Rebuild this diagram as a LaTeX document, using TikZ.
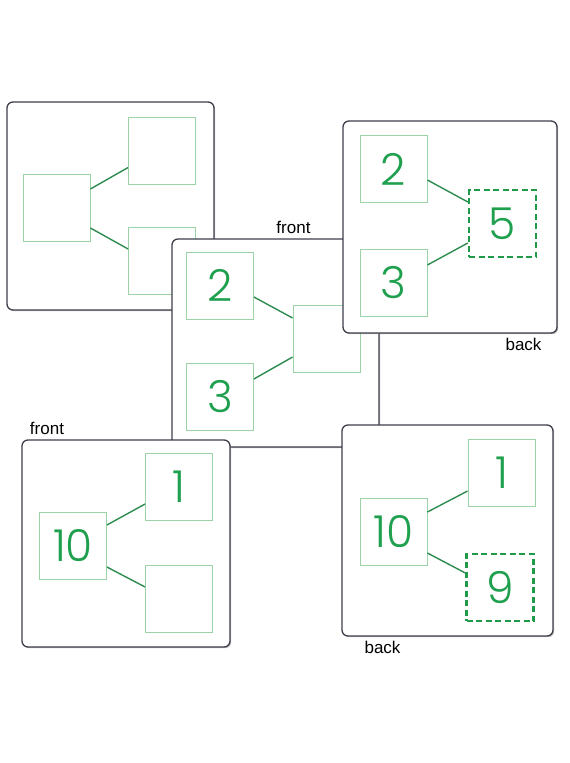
\documentclass[tikz,border=0pt]{standalone}
\usepackage{fontspec}
\setmainfont{Liberation Sans}
\newfontfamily\numfont{Poppins}[UprightFont={* Light}]
\usetikzlibrary{shadows}
\definecolor{cardline}{HTML}{3E3E4C}
\definecolor{boxline}{HTML}{9CD3A6}
\definecolor{linkgreen}{HTML}{2E8C50}
\definecolor{numgreen}{HTML}{1FA04E}
\definecolor{dashgreen}{HTML}{1E9A48}
\tikzset{
  card/.style={draw=cardline, line width=1.3pt, fill=white, rounded corners=6pt,
    drop shadow={shadow xshift=1.2pt, shadow yshift=-1.2pt, opacity=0.5, fill=gray}},
  numbox/.style={draw=boxline, line width=0.8pt, fill=white, minimum width=67pt, minimum height=67pt,
    inner sep=0pt, text=numgreen, font=\numfont\fontsize{44}{44}\selectfont},
  dashbox/.style={numbox, draw=dashgreen, line width=2.3pt, dash pattern=on 6pt off 3.5pt},
  link/.style={draw=linkgreen, line width=1.4pt},
  lbl/.style={anchor=base, inner sep=0pt, font=\fontsize{17}{18}\selectfont, text=black}
}
\begin{document}
\begin{tikzpicture}[x=1pt,y=-1pt]
\useasboundingbox (0,0) rectangle (570,763);
\fill[white] (0,0) rectangle (570,763);

% Card A (top left)
\node[card, minimum width=207pt, minimum height=208pt] (cardA) at (110.5,206) {};
\node[numbox] (aL) at (56.5,208) {};
\node[numbox] (aT) at (162,150.5) {};
\node[numbox] (aB) at (162,261) {};
\draw[link] ([yshift=19pt]aL.east) -- ([yshift=-17pt]aT.west);
\draw[link] ([yshift=-20pt]aL.east) -- ([yshift=12pt]aB.west);

% Card B (middle, front)
\node[card, minimum width=207pt, minimum height=208pt] (cardB) at (275.5,343) {};
\node[numbox] (b2) at (220,285.5) {2};
\node[numbox] (b3) at (220,397) {3};
\node[numbox] (bE) at (326.5,338.5) {};
\draw[link] ([yshift=-11.5pt]b2.east) -- ([yshift=20.5pt]bE.west);
\draw[link] ([yshift=18pt]b3.east) -- ([yshift=-18.5pt]bE.west);
\node[lbl] (frontB) at (293.5,233) {front};

% Card C (top right, back)
\node[card, minimum width=214pt, minimum height=212pt] (cardC) at (450,227) {};
\node[numbox] (c2) at (393.5,169) {2};
\node[numbox] (c3) at (393.5,282.5) {3};
\node[dashbox] (c5) at (502.5,223.5) {5};
\draw[link] ([yshift=-11pt]c2.east) -- ([yshift=21.5pt]c5.west);
\draw[link] ([yshift=17.5pt]c3.east) -- ([yshift=-19.5pt]c5.west);
\node[lbl] (backC) at (523.5,350) {back};

% Card D (bottom left, front)
\node[card, minimum width=208pt, minimum height=207pt] (cardD) at (126,543.5) {};
\node[numbox] (d10) at (73,545.5) {10};
\node[numbox] (d1) at (179,487) {1};
\node[numbox] (dE) at (179,598.5) {};
\draw[link] ([yshift=20.5pt]d10.east) -- ([yshift=-17pt]d1.west);
\draw[link] ([yshift=-21.5pt]d10.east) -- ([yshift=11.5pt]dE.west);
\node[lbl] (frontD) at (47,434) {front};

% Card E (bottom right, back)
\node[card, minimum width=211pt, minimum height=211pt] (cardE) at (447.5,530.5) {};
\node[numbox] (e10) at (393.5,532) {10};
\node[numbox] (e1) at (501.5,473) {1};
\node[dashbox] (e9) at (500,587.5) {9};
\draw[link] ([yshift=20pt]e10.east) -- ([yshift=-18pt]e1.west);
\draw[link] ([yshift=-21pt]e10.east) -- ([yshift=14.5pt]e9.west);
\node[lbl] (backE) at (382.5,653) {back};
\end{tikzpicture}
\end{document}
